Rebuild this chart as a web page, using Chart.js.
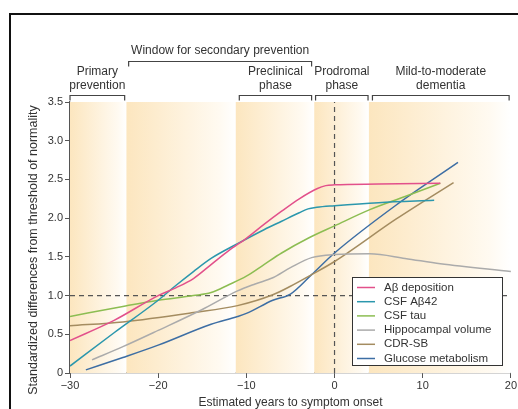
<!DOCTYPE html>
<html>
<head>
<meta charset="utf-8">
<script src="https://cdn.jsdelivr.net/npm/chart.js@4"></script>
<style>
  html, body { margin: 0; padding: 0; background: #fff; }
  canvas { display: block; }
</style>
</head>
<body>
<canvas id="chart" width="518" height="409"></canvas>
<script>
// Biomarker curves vs. estimated years to symptom onset

const seriesNames = ['Aβ deposition', 'CSF Aβ42', 'CSF tau', 'Hippocampal volume', 'CDR-SB', 'Glucose metabolism'];

const abX = [-30, -25, -20, -18, -16, -14, -12, -10, -8, -6, -4, -2, -1, 0, 5, 12];
const abY = [0.42, 0.68, 1.0, 1.1, 1.22, 1.4, 1.58, 1.74, 1.92, 2.09, 2.25, 2.38, 2.42, 2.43, 2.44, 2.45];

const csfAbX = [-30, -25, -20, -18, -16, -14, -11, -8, -6, -4, -3, -2, 0, 5, 11.3];
const csfAbY = [0.09, 0.52, 0.94, 1.13, 1.31, 1.48, 1.67, 1.85, 1.96, 2.07, 2.12, 2.14, 2.16, 2.2, 2.23];

const tauX = [-30, -24, -20, -16, -14, -12, -10, -8, -6, -3, 0, 4, 8, 12];
const tauY = [0.73, 0.86, 0.94, 1.0, 1.04, 1.14, 1.25, 1.4, 1.55, 1.74, 1.9, 2.11, 2.28, 2.45];

const hippoX = [-27.5, -24, -20, -15, -11, -9, -7, -5, -2.6, 0, 4, 8, 12, 20];
const hippoY = [0.17, 0.34, 0.55, 0.82, 1.06, 1.15, 1.23, 1.36, 1.49, 1.53, 1.54, 1.48, 1.41, 1.31];

const cdrX = [-30, -24, -16, -11, -7, -5, -2.6, 0, 7, 13.5];
const cdrY = [0.61, 0.66, 0.78, 0.87, 1.01, 1.12, 1.27, 1.44, 1.99, 2.46];

const glucoseX = [-28.2, -24, -20, -14, -11, -10, -7, -5, -2.6, 0, 7, 14];
const glucoseY = [0.04, 0.2, 0.36, 0.63, 0.73, 0.77, 0.94, 1.02, 1.27, 1.55, 2.17, 2.72];

const xTicks = [-30, -20, -10, 0, 10, 20];
const yTicks = [0, 0.5, 1.0, 1.5, 2.0, 2.5, 3.0, 3.5];

// shaded phases (years)
const bandStart = [-30, -23.6, -11.2, -2.3, 3.9];
const bandEnd = [-23.6, -11.2, -2.3, 3.9, 20];

// brackets above the plot (years)
const phaseStart = [-30, -10.8, -2.15, 4.3];
const phaseEnd = [-23.8, -2.6, 3.8, 19.8];
const phaseLabels = [['Primary', 'prevention'], ['Preclinical', 'phase'], ['Prodromal', 'phase'], ['Mild-to-moderate', 'dementia']];
const windowStart = -23.35;
const windowEnd = -2.6;
const windowLabel = 'Window for secondary prevention';

const thresholdY = 1.0;
const onsetX = 0;

const colors = ['#e2508b', '#2b97ad', '#8cbd52', '#ababab', '#a48c60', '#3d6ea4'];
const FONT = '"Liberation Sans", Arial, sans-serif';
const TEXT = '#333';
const AXIS = '#555';

function pts(xs, ys) {
    return xs.map((x, i) => ({ x: x, y: ys[i] }));
}

const series = [
    pts(abX, abY), pts(csfAbX, csfAbY), pts(tauX, tauY),
    pts(hippoX, hippoY), pts(cdrX, cdrY), pts(glucoseX, glucoseY)
];

const datasets = series.map((d, i) => ({
    label: seriesNames[i],
    data: d,
    borderColor: colors[i],
    borderWidth: 1.5,
    pointRadius: 0,
    fill: false,
    cubicInterpolationMode: 'monotone'
}));

// dashed reference lines (drawn underneath)
datasets.push({
    label: 'threshold',
    data: [{ x: -30, y: thresholdY }, { x: 20, y: thresholdY }],
    borderColor: AXIS, borderWidth: 1.2, borderDash: [5, 4], pointRadius: 0, clip: false
});
datasets.push({
    label: 'onset',
    data: [{ x: onsetX, y: 0 }, { x: onsetX, y: 3.5 }],
    borderColor: AXIS, borderWidth: 1.2, borderDash: [5, 4], pointRadius: 0
});

const decorations = {
    id: 'decorations',
    beforeDatasetsDraw(chart) {
        const { ctx, chartArea, scales } = chart;
        ctx.save();
        bandStart.forEach((s, i) => {
            const x0 = scales.x.getPixelForValue(s);
            const x1 = scales.x.getPixelForValue(bandEnd[i]);
            const g = ctx.createLinearGradient(x0, 0, x1, 0);
            g.addColorStop(0, '#fce6bf');
            g.addColorStop(0.85, '#fffaf1');
            g.addColorStop(1, '#ffffff');
            ctx.fillStyle = g;
            ctx.fillRect(x0, chartArea.top, x1 - x0, chartArea.bottom - chartArea.top);
        });
        ctx.restore();
    },
    afterDatasetsDraw(chart) {
        const { ctx } = chart;
        // legend box
        const lx = 352, ly = 277, lw = 150, lh = 88;
        ctx.save();
        ctx.fillStyle = '#fff';
        ctx.fillRect(lx, ly, lw, lh);
        ctx.strokeStyle = '#333';
        ctx.lineWidth = 1;
        ctx.strokeRect(lx + 0.5, ly + 0.5, lw, lh);
        ctx.font = '11.5px ' + FONT;
        ctx.textBaseline = 'middle';
        ctx.fillStyle = TEXT;
        seriesNames.forEach((name, i) => {
            const y = ly + 10.5 + i * 14.2;
            ctx.strokeStyle = colors[i];
            ctx.lineWidth = 1.5;
            ctx.beginPath();
            ctx.moveTo(lx + 5, y);
            ctx.lineTo(lx + 23, y);
            ctx.stroke();
            ctx.fillText(name, lx + 32, y);
        });
        ctx.restore();
    },
    afterDraw(chart) {
        const { ctx, scales, chartArea } = chart;
        const xs = scales.x;
        ctx.save();
        ctx.strokeStyle = '#444';
        ctx.lineWidth = 1.2;
        ctx.fillStyle = TEXT;
        ctx.font = '12px ' + FONT;
        ctx.textAlign = 'center';
        ctx.textBaseline = 'middle';

        function bracket(a, b, y) {
            const x0 = xs.getPixelForValue(a), x1 = xs.getPixelForValue(b);
            ctx.beginPath();
            ctx.moveTo(x0, y + 5);
            ctx.lineTo(x0, y);
            ctx.lineTo(x1, y);
            ctx.lineTo(x1, y + 5);
            ctx.stroke();
            return (x0 + x1) / 2;
        }

        phaseStart.forEach((s, i) => {
            const cx = bracket(s, phaseEnd[i], 95.5);
            ctx.fillText(phaseLabels[i][0], cx, 72);
            ctx.fillText(phaseLabels[i][1], cx, 86);
        });
        const wx = bracket(windowStart, windowEnd, 61.5);
        ctx.fillText(windowLabel, wx, 51);

        // x axis title
        ctx.fillText('Estimated years to symptom onset', (chartArea.left + chartArea.right) / 2, 403);

        // y axis title
        ctx.save();
        ctx.translate(34, 250);
        ctx.rotate(-Math.PI / 2);
        ctx.font = '12.5px ' + FONT;
        ctx.fillText('Standardized differences from threshold of normality', 0, 0);
        ctx.restore();

        // frame
        ctx.fillStyle = '#111';
        ctx.fillRect(9, 13, 509, 2);
        ctx.fillRect(9, 13, 2, 396);
        ctx.restore();
    }
};

new Chart(document.getElementById('chart'), {
    type: 'line',
    data: { datasets: datasets },
    options: {
        responsive: false,
        animation: false,
        devicePixelRatio: 1,
        layout: { padding: { top: 102, right: 5, left: 0, bottom: 0 } },
        plugins: { legend: { display: false }, tooltip: { enabled: false } },
        scales: {
            x: {
                type: 'linear',
                min: -30,
                max: 20,
                afterBuildTicks: s => { s.ticks = xTicks.map(v => ({ value: v })); },
                afterFit: s => { s.height = 36; },
                grid: { drawOnChartArea: false, tickLength: 5, color: AXIS },
                border: { color: AXIS, width: 1.2 },
                ticks: {
                    font: { size: 11, family: FONT },
                    color: TEXT,
                    padding: 1,
                    maxRotation: 0,
                    callback: v => v < 0 ? '\u2212' + Math.abs(v) : String(v)
                }
            },
            y: {
                type: 'linear',
                min: 0,
                max: 3.5,
                afterBuildTicks: s => { s.ticks = yTicks.map(v => ({ value: v })); },
                afterFit: s => { s.width = 70; },
                grid: { drawOnChartArea: false, tickLength: 5, color: AXIS },
                border: { color: AXIS, width: 1.2 },
                ticks: {
                    font: { size: 11, family: FONT },
                    color: TEXT,
                    padding: 2,
                    callback: v => v === 0 ? '0' : v.toFixed(1)
                }
            }
        }
    },
    plugins: [decorations]
});
</script>
</body>
</html>
